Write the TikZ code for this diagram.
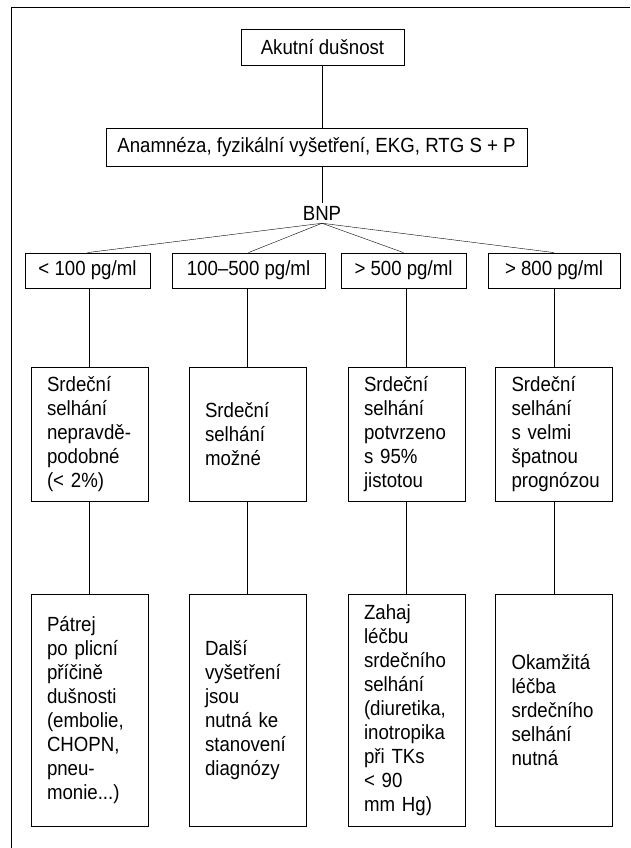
\documentclass[tikz,border=0pt]{standalone}
\usepackage{fontspec}
\setmainfont{Liberation Sans}[FakeStretch=0.91]
\usepackage{tikz}
\usetikzlibrary{positioning,calc}

\tikzset{
  box/.style={draw,line width=0.8pt,inner sep=0pt,font=\fontsize{20.5}{24}\selectfont},
  lvlbox/.style={box,minimum height=35pt},
  textbox/.style={box,text width=85pt,inner xsep=16pt,align=left},
}

\begin{document}
\begin{tikzpicture}[x=1pt,y=-1pt]
  \useasboundingbox (0,0) rectangle (630,848);
  \draw[line width=1.6pt] (11.5,848) -- (11.5,7.5) -- (630,7.5);
  \node[box,minimum width=163pt,minimum height=36pt] (akut) at (322.5,47) {Akutní dušnost};
  \node[box,minimum width=421pt,minimum height=38pt] (anam) at (316.5,147) {Anamnéza, fyzikální vyšetření, EKG, RTG S + P};
  \node[font=\fontsize{20.5}{24}\selectfont,inner sep=3pt] (bnp) at (322,213) {BNP};
  \coordinate (apex) at (bnp.south);
  % BNP levels
  \node[lvlbox,minimum width=125pt] (lvl1) at (87.5,270.5) {< 100 pg/ml};
  \node[lvlbox,minimum width=153pt] (lvl2) at (248.5,270.5) {100--500 pg/ml};
  \node[lvlbox,minimum width=125pt] (lvl3) at (403.5,270.5) {> 500 pg/ml};
  \node[lvlbox,minimum width=132pt] (lvl4) at (554,270.5) {> 800 pg/ml};
  % diagnosis
  \node[textbox,minimum height=134pt] (mid1) at (89.5,434) {Srdeční\\selhání\\nepravdě-\\podobné\\(< 2\%)};
  \node[textbox,minimum height=134pt] (mid2) at (247.5,434) {Srdeční\\selhání\\možné};
  \node[textbox,minimum height=134pt] (mid3) at (406.5,434) {Srdeční\\selhání\\potvrzeno\\s 95\%\\jistotou};
  \node[textbox,minimum height=134pt] (mid4) at (554,434) {Srdeční\\selhání\\s velmi\\špatnou\\prognózou};
  % what to do
  \node[textbox,minimum height=232pt] (low1) at (89.5,710) {Pátrej\\po plicní\\příčině\\dušnosti\\(embolie,\\CHOPN,\\pneu-\\monie...)};
  \node[textbox,minimum height=232pt] (low2) at (247.5,710) {Další\\vyšetření\\jsou\\nutná ke\\stanovení\\diagnózy};
  \node[textbox,minimum height=232pt] (low3) at (406.5,710) {Zahaj\\léčbu\\srdečního\\selhání\\(diuretika,\\inotropika\\při TKs\\< 90\\mm Hg)};
  \node[textbox,minimum height=232pt] (low4) at (554,710) {Okamžitá\\léčba\\srdečního\\selhání\\nutná};

  \draw (akut.south) -- (akut.south |- anam.north);
  \draw (bnp.north |- anam.south) -- (bnp.north);
  \foreach \k in {1,...,4} {
    \draw (apex) -- (lvl\k.north);
    \draw (mid\k.north) -- (mid\k.north |- lvl\k.south);
    \draw (mid\k.south) -- (low\k.north);
  }
\end{tikzpicture}
\end{document}
